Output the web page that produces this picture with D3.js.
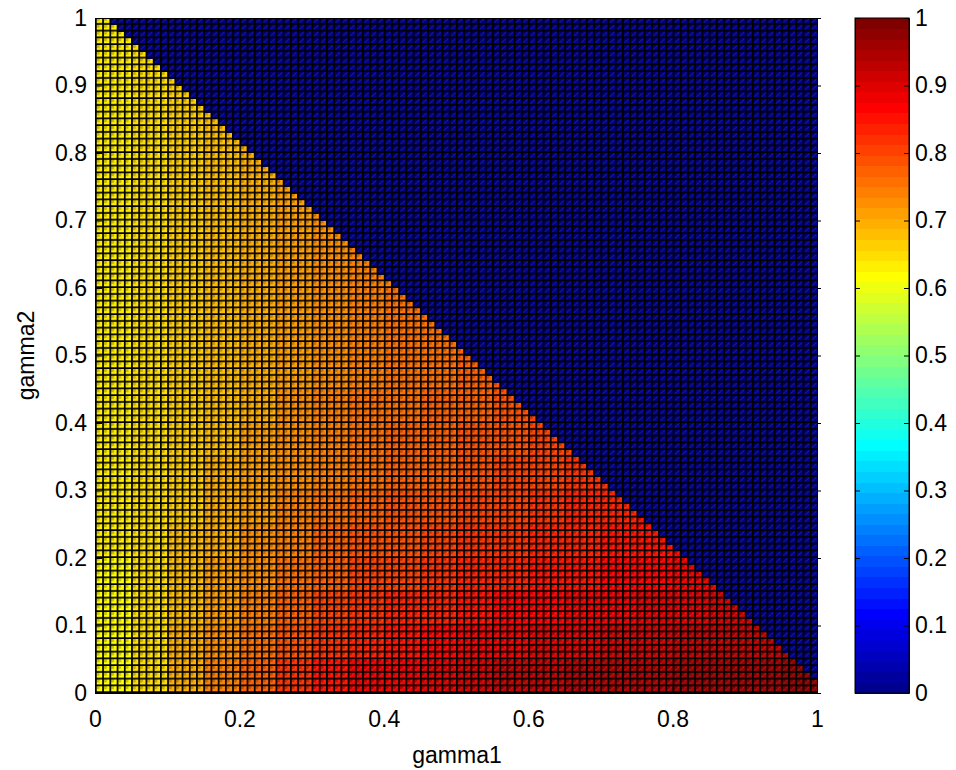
<!DOCTYPE html>
<html>
<head>
<meta charset="utf-8">
<script src="https://cdn.jsdelivr.net/npm/d3@7"></script>
<style>
  body { margin: 0; background: #fff; }
  text { font-family: "Liberation Sans", Arial, sans-serif; font-size: 23px; fill: #000; }
</style>
</head>
<body>
<svg id="chart" width="956" height="770"></svg>
<script>
// ---- data -------------------------------------------------------------
const gamma1Ticks = [0, 0.2, 0.4, 0.6, 0.8, 1];
const gamma2Ticks = [0, 0.1, 0.2, 0.3, 0.4, 0.5, 0.6, 0.7, 0.8, 0.9, 1];
const colorbarTicks = [0, 0.1, 0.2, 0.3, 0.4, 0.5, 0.6, 0.7, 0.8, 0.9, 1];

// mesh spacing of the surface and the spacing of the value table below
const meshStep = 0.01;
const blockStep = 0.05;

// surface values, one row per gamma2 band (bottom band first),
// one entry per gamma1 band up to the diagonal
const surfaceRows = [
  [0.610,0.650,0.700,0.740,0.780,0.820,0.850,0.875,0.890,0.905,0.915,0.925,0.935,0.940,0.945,0.950,0.955,0.960,0.965,0.970],
  [0.616,0.649,0.691,0.726,0.760,0.794,0.821,0.843,0.857,0.869,0.879,0.889,0.899,0.906,0.912,0.918,0.924,0.930,0.936,0.942],
  [0.620,0.648,0.684,0.714,0.745,0.775,0.798,0.818,0.831,0.842,0.852,0.862,0.872,0.879,0.886,0.893,0.900,0.907,0.914],
  [0.623,0.647,0.679,0.706,0.732,0.759,0.780,0.798,0.811,0.821,0.831,0.841,0.851,0.858,0.866,0.873,0.881,0.889],
  [0.626,0.647,0.675,0.699,0.723,0.747,0.767,0.783,0.795,0.804,0.814,0.824,0.834,0.842,0.850,0.858,0.867],
  [0.628,0.646,0.671,0.694,0.716,0.738,0.756,0.772,0.783,0.791,0.801,0.811,0.821,0.829,0.838,0.847],
  [0.629,0.646,0.669,0.689,0.710,0.731,0.747,0.762,0.773,0.781,0.791,0.801,0.811,0.820,0.828],
  [0.631,0.646,0.667,0.686,0.706,0.725,0.741,0.755,0.766,0.773,0.783,0.793,0.803,0.812],
  [0.632,0.646,0.665,0.684,0.702,0.721,0.736,0.750,0.760,0.767,0.777,0.787,0.797],
  [0.632,0.646,0.664,0.682,0.699,0.717,0.732,0.745,0.756,0.762,0.772,0.782],
  [0.633,0.645,0.663,0.680,0.697,0.714,0.729,0.742,0.752,0.758,0.768],
  [0.633,0.645,0.663,0.679,0.696,0.712,0.726,0.739,0.750,0.755],
  [0.634,0.645,0.662,0.678,0.695,0.711,0.725,0.737,0.748],
  [0.634,0.645,0.662,0.678,0.694,0.709,0.723,0.736],
  [0.634,0.645,0.661,0.677,0.693,0.708,0.722],
  [0.634,0.645,0.661,0.677,0.692,0.708],
  [0.634,0.645,0.661,0.676,0.692],
  [0.635,0.645,0.661,0.676],
  [0.635,0.645,0.660],
  [0.635,0.645]
];

// number of non-zero mesh cells in each mesh row, bottom row first
const nonZeroCells = [
  100,100,99,98,97,96,95,94,93,92,91,90,89,88,87,86,85,84,83,82,
  81,80,79,78,77,76,75,74,73,72,71,70,69,68,67,66,65,64,63,62,
  61,60,59,58,57,56,55,54,53,52,51,50,49,48,47,46,45,44,43,42,
  41,40,39,38,37,36,35,34,33,32,31,30,29,28,27,26,25,24,23,22,
  21,20,19,18,17,16,15,14,13,12,11,10,9,8,7,6,5,4,3,2
];
const zeroValue = 0;

// ---- colormap (64-step jet) ------------------------------------------
const nColors = 64;
function jetU(k) {
  if (k >= 1 && k <= 16) return k / 16;
  if (k >= 17 && k <= 31) return 1;
  if (k >= 32 && k <= 47) return (48 - k) / 16;
  return 0;
}
function jetRGB(idx) { // idx 1..64
  const r = idx >= 25 ? jetU(idx - 24) : 0;
  const g = (idx >= 9 && idx <= 55) ? jetU(idx - 8) : 0;
  const b = idx <= 39 ? jetU(idx + 8) : 0;
  return d3.rgb(r * 255, g * 255, b * 255).toString();
}
const colorIndex = d3.scaleQuantize().domain([0, 1]).range(d3.range(1, nColors + 1));
const colorOf = v => jetRGB(v >= 1 ? nColors : colorIndex(v));

// ---- layout -----------------------------------------------------------
const svg = d3.select("#chart");
const x = d3.scaleLinear().domain([0, 1]).range([95, 817]);
const y = d3.scaleLinear().domain([0, 1]).range([693, 18]);

const defs = svg.append("defs");
svg.append("clipPath").attr("id", "plotClip")
  .append("rect").attr("x", x(0)).attr("y", y(1))
  .attr("width", x(1) - x(0)).attr("height", y(0) - y(1));

const plot = svg.append("g").attr("clip-path", "url(#plotClip)");

// zero-valued region underneath everything
plot.append("rect")
  .attr("x", x(0)).attr("y", y(1))
  .attr("width", x(1) - x(0)).attr("height", y(0) - y(1))
  .attr("fill", colorOf(zeroValue));

// coloured faces: each mesh row split into the bands of the value table
const faces = [];
const perBlock = Math.round(blockStep / meshStep);
nonZeroCells.forEach((count, j) => {
  const row = surfaceRows[Math.floor(j / perBlock)];
  row.forEach((v, k) => {
    const i0 = k * perBlock;
    const i1 = Math.min(i0 + perBlock, count);
    if (i1 > i0) faces.push({ g1a: i0 * meshStep, g1b: i1 * meshStep, g2a: j * meshStep, g2b: (j + 1) * meshStep, v });
  });
});
plot.append("g").attr("shape-rendering", "crispEdges")
  .selectAll("rect").data(faces).join("rect")
  .attr("x", d => x(d.g1a))
  .attr("y", d => y(d.g2b))
  .attr("width", d => x(d.g1b) - x(d.g1a) + 0.3)
  .attr("height", d => y(d.g2a) - y(d.g2b) + 0.3)
  .attr("fill", d => colorOf(d.v));

// mesh edges and facet shading as a repeating tile
const cw = x(meshStep) - x(0);
const ch = y(0) - y(meshStep);
const pat = defs.append("pattern").attr("id", "mesh")
  .attr("patternUnits", "userSpaceOnUse")
  .attr("x", x(0)).attr("y", y(1)).attr("width", cw).attr("height", ch);
const lw = 1.7;
pat.append("rect").attr("x", lw).attr("y", 0).attr("width", cw * 0.42).attr("height", ch * 0.45)
  .attr("fill", "#000").attr("fill-opacity", 0.24);
pat.append("line").attr("x1", lw + 0.5).attr("y1", ch - lw - 0.5).attr("x2", cw - 0.5).attr("y2", 0.5)
  .attr("stroke", "#fff").attr("stroke-opacity", 0.16).attr("stroke-width", 0.8);
pat.append("rect").attr("x", 0).attr("y", 0).attr("width", lw).attr("height", ch).attr("fill", "#000");
pat.append("rect").attr("x", 0).attr("y", ch - lw).attr("width", cw).attr("height", lw).attr("fill", "#000");
plot.append("rect")
  .attr("x", x(0)).attr("y", y(1))
  .attr("width", x(1) - x(0)).attr("height", y(0) - y(1))
  .attr("fill", "url(#mesh)");

// ---- axes -------------------------------------------------------------
const tickFmt = d => d3.format("~g")(d);
svg.append("g").attr("transform", `translate(0,${y(0)})`)
  .call(d3.axisBottom(x).tickValues(gamma1Ticks).tickFormat(tickFmt).tickSize(-7).tickPadding(18));
svg.append("g").attr("transform", `translate(${x(0)},0)`)
  .call(d3.axisLeft(y).tickValues(gamma2Ticks).tickFormat(tickFmt).tickSize(-7).tickPadding(8));
svg.append("g").attr("transform", `translate(0,${y(1)})`)
  .call(d3.axisTop(x).tickValues(gamma1Ticks).tickFormat("").tickSize(-7));
svg.append("g").attr("transform", `translate(${x(1)},0)`)
  .call(d3.axisRight(y).tickValues(gamma2Ticks).tickFormat("").tickSize(4));

svg.append("text").attr("x", (x(0) + x(1)) / 2 + 1).attr("y", 763)
  .attr("text-anchor", "middle").text("gamma1");
svg.append("text").attr("transform", `translate(34,${(y(0) + y(1)) / 2}) rotate(-90)`)
  .attr("text-anchor", "middle").text("gamma2");

// ---- colorbar ---------------------------------------------------------
const cbx0 = 855, cbx1 = 909;
const cbY = d3.scaleLinear().domain([0, 1]).range([693, 18]);
const bands = d3.range(nColors).map(i => ({ a: i / nColors, b: (i + 1) / nColors, idx: i + 1 }));
svg.append("g").attr("shape-rendering", "crispEdges")
  .selectAll("rect").data(bands).join("rect")
  .attr("x", cbx0).attr("width", cbx1 - cbx0)
  .attr("y", d => cbY(d.b)).attr("height", d => cbY(d.a) - cbY(d.b) + 0.5)
  .attr("fill", d => jetRGB(d.idx));
svg.append("g").attr("transform", `translate(${cbx1},0)`)
  .call(d3.axisRight(cbY).tickValues(colorbarTicks).tickFormat(tickFmt).tickSize(-5).tickPadding(6));
svg.append("g").attr("transform", `translate(${cbx0},0)`)
  .call(d3.axisLeft(cbY).tickValues(colorbarTicks).tickFormat("").tickSize(-5));
svg.append("rect").attr("x", cbx0).attr("y", cbY(1)).attr("width", cbx1 - cbx0).attr("height", cbY(0) - cbY(1))
  .attr("fill", "none").attr("stroke", "#000");

// plain black strokes and inherited font for all axis parts
svg.selectAll(".domain").attr("stroke", "#000");
svg.selectAll(".tick line").attr("stroke", "#000");
svg.selectAll("g").filter(function () { return this.hasAttribute("font-size"); })
  .attr("font-size", null).attr("font-family", null);
</script>
</body>
</html>
